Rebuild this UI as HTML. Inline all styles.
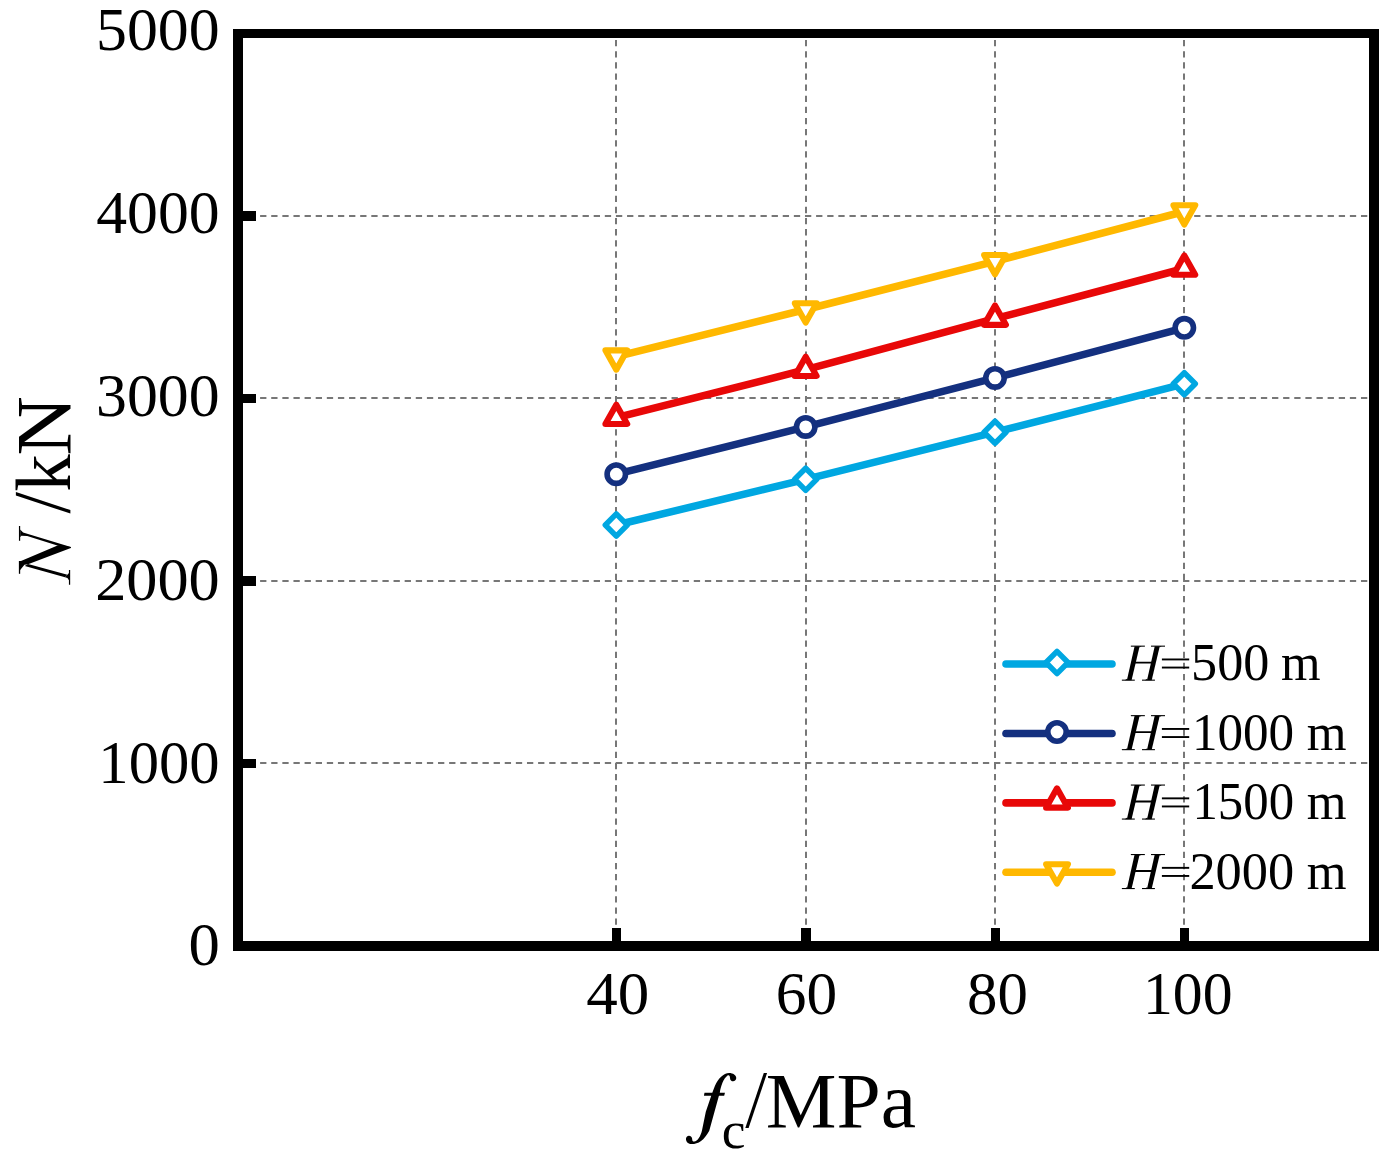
<!DOCTYPE html>
<html><head><meta charset="utf-8"><title>chart</title>
<style>
html,body{margin:0;padding:0;background:#fff;}
body{width:1391px;height:1164px;overflow:hidden;}
svg{display:block;}
text{font-family:"Liberation Serif",serif;fill:#000;}
.it{font-style:italic;}
</style></head><body>
<svg width="1391" height="1164" viewBox="0 0 1391 1164">
<rect x="0" y="0" width="1391" height="1164" fill="#fff"/>

<g stroke="#777777" stroke-width="2" stroke-dasharray="6.3 4.82" fill="none">
<line x1="260.1" y1="216" x2="1369" y2="216"/>
<line x1="260.1" y1="398" x2="1369" y2="398"/>
<line x1="260.1" y1="581" x2="1369" y2="581"/>
<line x1="260.1" y1="763" x2="1369" y2="763"/>
<line x1="616" y1="40.06" x2="616" y2="925"/>
<line x1="806" y1="40.06" x2="806" y2="925"/>
<line x1="995" y1="40.06" x2="995" y2="925"/>
<line x1="1184" y1="40.06" x2="1184" y2="925"/>
</g>
<g fill="#000"><rect x="233" y="29" width="1146" height="9"/><rect x="233" y="941" width="1146" height="10"/><rect x="233" y="29" width="10" height="922"/><rect x="1369" y="29" width="10" height="922"/></g>
<g fill="#000">
<rect x="242" y="211" width="14" height="10"/>
<rect x="242" y="394" width="14" height="9"/>
<rect x="242" y="576" width="14" height="10"/>
<rect x="242" y="759" width="14" height="9"/>
<rect x="612" y="928" width="9" height="14"/>
<rect x="801" y="928" width="10" height="14"/>
<rect x="991" y="928" width="9" height="14"/>
<rect x="1180" y="928" width="9" height="14"/>
</g>
<text x="96.01" y="50.40" font-size="61.2" textLength="123.65" lengthAdjust="spacingAndGlyphs">5000</text>
<text x="96.19" y="233.40" font-size="61.2" textLength="123.46" lengthAdjust="spacingAndGlyphs">4000</text>
<text x="96.04" y="416.40" font-size="61.2" textLength="123.61" lengthAdjust="spacingAndGlyphs">3000</text>
<text x="95.16" y="599.70" font-size="61.2" textLength="124.61" lengthAdjust="spacingAndGlyphs">2000</text>
<text x="98.37" y="782.70" font-size="61.2" textLength="121.34" lengthAdjust="spacingAndGlyphs">1000</text>
<text x="188.41" y="965.40" font-size="61.2" textLength="31.38" lengthAdjust="spacingAndGlyphs">0</text>
<text x="586.37" y="1014.40" font-size="61.2" textLength="63.03" lengthAdjust="spacingAndGlyphs">40</text>
<text x="775.86" y="1014.40" font-size="61.2" textLength="61.37" lengthAdjust="spacingAndGlyphs">60</text>
<text x="967.08" y="1014.40" font-size="61.2" textLength="60.83" lengthAdjust="spacingAndGlyphs">80</text>
<text x="1142.95" y="1014.40" font-size="61.2" textLength="89.63" lengthAdjust="spacingAndGlyphs">100</text>
<path d="M 685.96,1138.95 C 685.96,1141.97 688.55,1144.12 691.57,1144.12 C 698.47,1144.12 704.08,1140.24 709.26,1130.75 L 718.92,1095.81 L 724.18,1095.81 L 724.96,1092.79 L 719.78,1092.79 C 720.91,1085.88 723.49,1078.55 727.81,1075.36 C 729.10,1074.67 729.97,1075.96 729.97,1077.69 C 729.97,1080.28 731.69,1081.31 733.07,1081.31 C 734.88,1081.31 736.26,1080.02 736.26,1078.12 C 736.26,1075.10 732.99,1072.94 729.10,1072.94 C 723.49,1072.94 718.32,1078.55 714.87,1085.88 L 712.28,1092.79 L 704.51,1092.79 L 703.91,1095.81 L 711.24,1095.81 L 705.81,1111.77 L 701.92,1130.75 C 700.63,1135.93 697.61,1141.54 694.16,1141.54 C 692.86,1141.54 692.17,1140.67 692.17,1138.95 C 692.17,1137.05 690.71,1135.75 688.98,1135.75 C 687.26,1135.75 685.96,1137.05 685.96,1138.95 Z" fill="#000"/>
<text x="721.86" y="1148.40" font-size="52" textLength="23.79" lengthAdjust="spacingAndGlyphs">c</text>
<polygon points="763.79,1073.11 767.07,1073.11 748.60,1127.90 745.32,1127.90" fill="#000"/>
<text x="765.81" y="1126.90" font-size="78" textLength="150.18" lengthAdjust="spacingAndGlyphs">MPa</text>
<polygon points="18.94,526.00 20.18,526.00 20.18,540.79 18.94,540.79" fill="#000"/>
<polygon points="20.18,529.44 23.06,532.53 70.85,546.97 70.85,548.01 58.13,545.74 27.19,535.97 21.35,535.63 20.18,537.14" fill="#000"/>
<polygon points="18.94,561.07 21.00,560.93 58.13,545.26 70.85,546.97 70.85,548.01 28.02,564.23 24.44,564.65 20.18,570.01 18.94,573.79" fill="#000"/>
<polygon points="28.02,563.96 67.42,574.82 65.01,577.23 24.78,565.88" fill="#000"/>
<polygon points="68.93,570.01 70.17,570.01 70.17,584.79 68.93,584.79 68.93,580.32 67.42,577.92 65.01,577.23 67.42,574.82 68.93,573.10" fill="#000"/>
<polygon points="18.94,561.07 20.18,561.07 20.18,573.79 18.94,573.79" fill="#000"/>
<g transform="translate(69.5,585) rotate(-90)">
<polygon points="71.4,0.9 74.9,0.9 93.0,-53.6 89.5,-53.6" fill="#000"/>
<text x="93.37" y="0.00" font-size="78" textLength="37.53" lengthAdjust="spacingAndGlyphs">k</text>
<text x="129.43" y="0.00" font-size="78" textLength="59.35" lengthAdjust="spacingAndGlyphs">N</text>
</g>
<polyline points="616.30,525.00 805.70,479.30 995.00,432.20 1184.30,383.80" fill="none" stroke="#00A7E1" stroke-width="7.5" stroke-linejoin="round" stroke-linecap="round"/>
<polygon points="616.30,513.90 627.30,525.00 616.30,536.10 605.30,525.00" fill="#fff" stroke="#00A7E1" stroke-width="5.5" stroke-linejoin="round"/>
<polygon points="805.70,468.20 816.70,479.30 805.70,490.40 794.70,479.30" fill="#fff" stroke="#00A7E1" stroke-width="5.5" stroke-linejoin="round"/>
<polygon points="995.00,421.10 1006.00,432.20 995.00,443.30 984.00,432.20" fill="#fff" stroke="#00A7E1" stroke-width="5.5" stroke-linejoin="round"/>
<polygon points="1184.30,372.70 1195.30,383.80 1184.30,394.90 1173.30,383.80" fill="#fff" stroke="#00A7E1" stroke-width="5.5" stroke-linejoin="round"/>
<polyline points="616.30,474.20 805.70,426.90 995.00,377.90 1184.30,327.80" fill="none" stroke="#14307F" stroke-width="7.5" stroke-linejoin="round" stroke-linecap="round"/>
<circle cx="616.30" cy="474.20" r="9.2" fill="#fff" stroke="#14307F" stroke-width="5.6"/>
<circle cx="805.70" cy="426.90" r="9.2" fill="#fff" stroke="#14307F" stroke-width="5.6"/>
<circle cx="995.00" cy="377.90" r="9.2" fill="#fff" stroke="#14307F" stroke-width="5.6"/>
<circle cx="1184.30" cy="327.80" r="9.2" fill="#fff" stroke="#14307F" stroke-width="5.6"/>
<polyline points="616.30,417.70 805.70,369.70 995.00,318.60 1184.30,268.50" fill="none" stroke="#E80808" stroke-width="7.5" stroke-linejoin="round" stroke-linecap="round"/>
<polygon points="616.30,404.63 627.20,423.93 605.40,423.93" fill="#fff" stroke="#E80808" stroke-width="6.1" stroke-linejoin="round"/>
<polygon points="805.70,356.63 816.60,375.93 794.80,375.93" fill="#fff" stroke="#E80808" stroke-width="6.1" stroke-linejoin="round"/>
<polygon points="995.00,305.53 1005.90,324.83 984.10,324.83" fill="#fff" stroke="#E80808" stroke-width="6.1" stroke-linejoin="round"/>
<polygon points="1184.30,255.43 1195.20,274.73 1173.40,274.73" fill="#fff" stroke="#E80808" stroke-width="6.1" stroke-linejoin="round"/>
<polyline points="616.30,356.60 805.70,309.50 995.00,261.30 1184.30,211.50" fill="none" stroke="#FFB800" stroke-width="7.5" stroke-linejoin="round" stroke-linecap="round"/>
<polygon points="616.30,369.67 627.20,350.37 605.40,350.37" fill="#fff" stroke="#FFB800" stroke-width="6.1" stroke-linejoin="round"/>
<polygon points="805.70,322.57 816.60,303.27 794.80,303.27" fill="#fff" stroke="#FFB800" stroke-width="6.1" stroke-linejoin="round"/>
<polygon points="995.00,274.37 1005.90,255.07 984.10,255.07" fill="#fff" stroke="#FFB800" stroke-width="6.1" stroke-linejoin="round"/>
<polygon points="1184.30,224.57 1195.20,205.27 1173.40,205.27" fill="#fff" stroke="#FFB800" stroke-width="6.1" stroke-linejoin="round"/>
<line x1="1006" y1="664.0" x2="1112" y2="664.0" stroke="#00A7E1" stroke-width="7.6" stroke-linecap="round"/>
<polygon points="1057.00,651.40 1068.00,662.50 1057.00,673.60 1046.00,662.50" fill="#fff" stroke="#00A7E1" stroke-width="5.5" stroke-linejoin="round"/>
<polygon points="1130.85,645.62 1144.87,645.62 1144.87,646.70 1130.85,646.70" fill="#000"/>
<polygon points="1150.98,645.62 1165.00,645.62 1165.00,646.70 1150.98,646.70" fill="#000"/>
<polygon points="1121.86,679.62 1134.80,679.62 1134.80,680.70 1121.86,680.70" fill="#000"/>
<polygon points="1141.99,679.62 1154.93,679.62 1154.93,680.70 1141.99,680.70" fill="#000"/>
<polygon points="1134.59,646.19 1139.62,646.19 1131.57,680.27 1126.89,680.27" fill="#000"/>
<polygon points="1154.72,646.19 1159.75,646.19 1151.70,680.27 1147.02,680.27" fill="#000"/>
<polygon points="1135.16,661.65 1153.13,661.65 1152.70,663.59 1134.73,663.59" fill="#000"/>
<polygon points="1139.62,646.19 1141.63,646.19 1139.33,647.56" fill="#000"/>
<polygon points="1159.75,646.19 1161.76,646.19 1159.46,647.56" fill="#000"/>
<polygon points="1126.89,680.27 1124.74,680.27 1127.18,678.69" fill="#000"/>
<polygon points="1147.02,680.27 1144.87,680.27 1147.31,678.69" fill="#000"/>
<rect x="1161.9" y="658.50" width="27.3" height="1.9"/>
<rect x="1161.9" y="666.60" width="27.3" height="1.9"/>
<text x="1191.07" y="680.20" font-size="52" textLength="78.32" lengthAdjust="spacingAndGlyphs">500</text>
<text x="1280.93" y="680.20" font-size="52" textLength="39.56" lengthAdjust="spacingAndGlyphs">m</text>
<line x1="1006" y1="733.5" x2="1112" y2="733.5" stroke="#14307F" stroke-width="7.6" stroke-linecap="round"/>
<circle cx="1057.00" cy="732.00" r="9.2" fill="#fff" stroke="#14307F" stroke-width="5.6"/>
<polygon points="1130.85,715.12 1144.87,715.12 1144.87,716.20 1130.85,716.20" fill="#000"/>
<polygon points="1150.98,715.12 1165.00,715.12 1165.00,716.20 1150.98,716.20" fill="#000"/>
<polygon points="1121.86,749.12 1134.80,749.12 1134.80,750.20 1121.86,750.20" fill="#000"/>
<polygon points="1141.99,749.12 1154.93,749.12 1154.93,750.20 1141.99,750.20" fill="#000"/>
<polygon points="1134.59,715.69 1139.62,715.69 1131.57,749.77 1126.89,749.77" fill="#000"/>
<polygon points="1154.72,715.69 1159.75,715.69 1151.70,749.77 1147.02,749.77" fill="#000"/>
<polygon points="1135.16,731.15 1153.13,731.15 1152.70,733.09 1134.73,733.09" fill="#000"/>
<polygon points="1139.62,715.69 1141.63,715.69 1139.33,717.06" fill="#000"/>
<polygon points="1159.75,715.69 1161.76,715.69 1159.46,717.06" fill="#000"/>
<polygon points="1126.89,749.77 1124.74,749.77 1127.18,748.19" fill="#000"/>
<polygon points="1147.02,749.77 1144.87,749.77 1147.31,748.19" fill="#000"/>
<rect x="1161.9" y="728.00" width="27.3" height="1.9"/>
<rect x="1161.9" y="736.10" width="27.3" height="1.9"/>
<text x="1191.91" y="749.70" font-size="52" textLength="102.24" lengthAdjust="spacingAndGlyphs">1000</text>
<text x="1306.73" y="749.70" font-size="52" textLength="39.77" lengthAdjust="spacingAndGlyphs">m</text>
<line x1="1006" y1="802.9" x2="1112" y2="802.9" stroke="#E80808" stroke-width="7.6" stroke-linecap="round"/>
<polygon points="1057.00,788.33 1067.90,807.63 1046.10,807.63" fill="#fff" stroke="#E80808" stroke-width="6.1" stroke-linejoin="round"/>
<polygon points="1130.85,784.52 1144.87,784.52 1144.87,785.60 1130.85,785.60" fill="#000"/>
<polygon points="1150.98,784.52 1165.00,784.52 1165.00,785.60 1150.98,785.60" fill="#000"/>
<polygon points="1121.86,818.52 1134.80,818.52 1134.80,819.60 1121.86,819.60" fill="#000"/>
<polygon points="1141.99,818.52 1154.93,818.52 1154.93,819.60 1141.99,819.60" fill="#000"/>
<polygon points="1134.59,785.09 1139.62,785.09 1131.57,819.17 1126.89,819.17" fill="#000"/>
<polygon points="1154.72,785.09 1159.75,785.09 1151.70,819.17 1147.02,819.17" fill="#000"/>
<polygon points="1135.16,800.55 1153.13,800.55 1152.70,802.49 1134.73,802.49" fill="#000"/>
<polygon points="1139.62,785.09 1141.63,785.09 1139.33,786.46" fill="#000"/>
<polygon points="1159.75,785.09 1161.76,785.09 1159.46,786.46" fill="#000"/>
<polygon points="1126.89,819.17 1124.74,819.17 1127.18,817.59" fill="#000"/>
<polygon points="1147.02,819.17 1144.87,819.17 1147.31,817.59" fill="#000"/>
<rect x="1161.9" y="797.40" width="27.3" height="1.9"/>
<rect x="1161.9" y="805.50" width="27.3" height="1.9"/>
<text x="1192.43" y="819.10" font-size="52" textLength="101.71" lengthAdjust="spacingAndGlyphs">1500</text>
<text x="1306.73" y="819.10" font-size="52" textLength="39.77" lengthAdjust="spacingAndGlyphs">m</text>
<line x1="1006" y1="872.3" x2="1112" y2="872.3" stroke="#FFB800" stroke-width="7.6" stroke-linecap="round"/>
<polygon points="1057.00,883.57 1067.90,864.27 1046.10,864.27" fill="#fff" stroke="#FFB800" stroke-width="6.1" stroke-linejoin="round"/>
<polygon points="1130.85,854.02 1144.87,854.02 1144.87,855.10 1130.85,855.10" fill="#000"/>
<polygon points="1150.98,854.02 1165.00,854.02 1165.00,855.10 1150.98,855.10" fill="#000"/>
<polygon points="1121.86,888.02 1134.80,888.02 1134.80,889.10 1121.86,889.10" fill="#000"/>
<polygon points="1141.99,888.02 1154.93,888.02 1154.93,889.10 1141.99,889.10" fill="#000"/>
<polygon points="1134.59,854.59 1139.62,854.59 1131.57,888.67 1126.89,888.67" fill="#000"/>
<polygon points="1154.72,854.59 1159.75,854.59 1151.70,888.67 1147.02,888.67" fill="#000"/>
<polygon points="1135.16,870.05 1153.13,870.05 1152.70,871.99 1134.73,871.99" fill="#000"/>
<polygon points="1139.62,854.59 1141.63,854.59 1139.33,855.96" fill="#000"/>
<polygon points="1159.75,854.59 1161.76,854.59 1159.46,855.96" fill="#000"/>
<polygon points="1126.89,888.67 1124.74,888.67 1127.18,887.09" fill="#000"/>
<polygon points="1147.02,888.67 1144.87,888.67 1147.31,887.09" fill="#000"/>
<rect x="1161.9" y="866.90" width="27.3" height="1.9"/>
<rect x="1161.9" y="875.00" width="27.3" height="1.9"/>
<text x="1189.40" y="888.60" font-size="52" textLength="104.80" lengthAdjust="spacingAndGlyphs">2000</text>
<text x="1306.73" y="888.60" font-size="52" textLength="39.77" lengthAdjust="spacingAndGlyphs">m</text>
</svg></body></html>
